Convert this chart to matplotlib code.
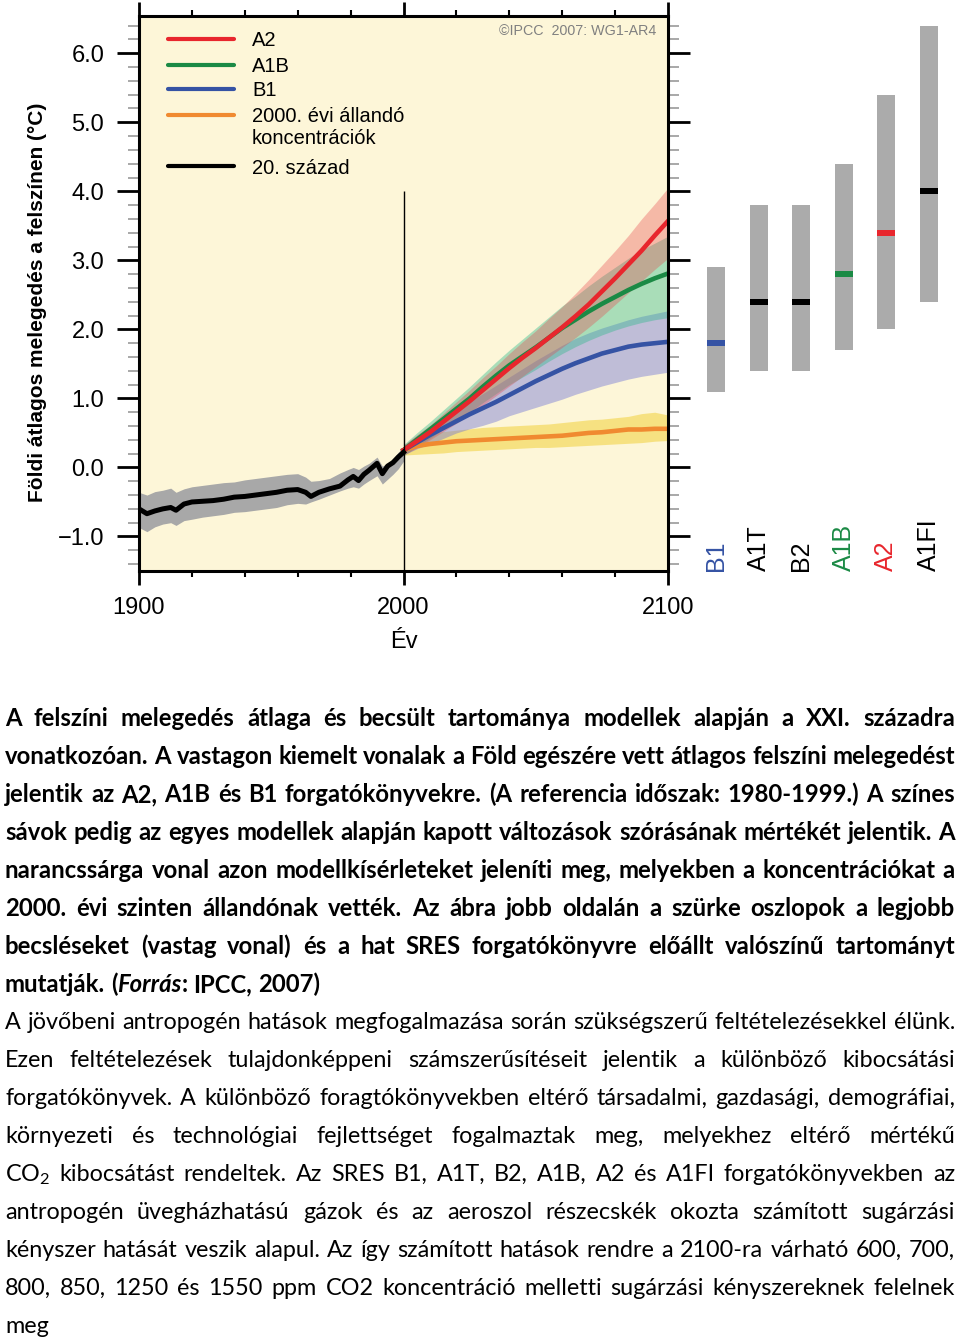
import matplotlib
matplotlib.use("Agg")
import matplotlib.pyplot as plt
from matplotlib.lines import Line2D
from matplotlib.ticker import MultipleLocator, FixedLocator, FixedFormatter
from matplotlib.transforms import IdentityTransform

W, H = 960, 1339
plt.rcParams['font.family'] = ['Liberation Sans', 'DejaVu Sans']

# --- 20th century (observed-model) mean and spread ---
hist_years = [1900, 1903, 1906, 1909, 1912, 1914, 1917, 1920, 1924, 1928,
              1932, 1936, 1940, 1944, 1948, 1952, 1956, 1960, 1963, 1965,
              1968, 1972, 1976, 1979, 1981, 1983, 1985, 1987, 1990, 1992,
              1994, 1996, 1998, 2000]
hist_mean = [-0.60, -0.67, -0.63, -0.60, -0.58, -0.62, -0.53, -0.50, -0.49, -0.48,
             -0.46, -0.43, -0.42, -0.40, -0.38, -0.36, -0.33, -0.32, -0.36, -0.42,
             -0.36, -0.31, -0.27, -0.18, -0.13, -0.19, -0.10, -0.04, 0.06, -0.09,
             0.02, 0.07, 0.15, 0.22]
hist_lo = [-0.87, -0.93, -0.86, -0.82, -0.80, -0.84, -0.77, -0.75, -0.72, -0.70,
           -0.68, -0.65, -0.64, -0.62, -0.60, -0.58, -0.54, -0.52, -0.53, -0.50,
           -0.46, -0.40, -0.34, -0.30, -0.28, -0.30, -0.24, -0.19, -0.12, -0.24,
           -0.17, -0.10, -0.02, 0.09]
hist_hi = [-0.36, -0.40, -0.35, -0.33, -0.30, -0.36, -0.31, -0.28, -0.26, -0.24,
           -0.22, -0.21, -0.18, -0.16, -0.14, -0.12, -0.10, -0.09, -0.14, -0.20,
           -0.19, -0.16, -0.08, -0.03, 0.00, -0.03, 0.02, 0.06, 0.15, 0.02,
           0.06, 0.12, 0.22, 0.30]

# --- scenarios 2000-2100 ---
fut_years = [2000, 2005, 2010, 2015, 2020, 2025, 2030, 2035, 2040, 2045, 2050,
             2055, 2060, 2065, 2070, 2075, 2080, 2085, 2090, 2095, 2100]
a2_mean = [0.25, 0.38, 0.51, 0.66, 0.81, 0.96, 1.12, 1.28, 1.44, 1.59, 1.73,
           1.88, 2.03, 2.19, 2.36, 2.55, 2.74, 2.94, 3.14, 3.36, 3.57]
a2_lo = [0.18, 0.28, 0.40, 0.52, 0.64, 0.77, 0.90, 1.04, 1.18, 1.32, 1.46,
         1.60, 1.74, 1.88, 2.03, 2.19, 2.36, 2.53, 2.70, 2.87, 3.03]
a2_hi = [0.32, 0.47, 0.61, 0.78, 0.95, 1.12, 1.30, 1.47, 1.65, 1.82, 1.98,
         2.16, 2.33, 2.52, 2.72, 2.93, 3.14, 3.36, 3.60, 3.82, 4.05]
a1b_mean = [0.25, 0.40, 0.55, 0.70, 0.85, 1.00, 1.17, 1.33, 1.48, 1.61, 1.74,
            1.88, 2.02, 2.14, 2.26, 2.37, 2.47, 2.57, 2.66, 2.74, 2.81]
a1b_lo = [0.17, 0.30, 0.42, 0.55, 0.67, 0.80, 0.94, 1.07, 1.20, 1.31, 1.42,
          1.54, 1.65, 1.75, 1.84, 1.92, 1.99, 2.05, 2.10, 2.14, 2.17]
a1b_hi = [0.33, 0.50, 0.66, 0.83, 1.00, 1.17, 1.35, 1.53, 1.70, 1.86, 2.02,
          2.18, 2.34, 2.48, 2.63, 2.77, 2.90, 3.03, 3.15, 3.25, 3.35]
b1_mean = [0.25, 0.36, 0.47, 0.57, 0.67, 0.77, 0.86, 0.95, 1.05, 1.15, 1.25,
           1.34, 1.43, 1.51, 1.58, 1.65, 1.70, 1.75, 1.78, 1.80, 1.82]
b1_lo = [0.18, 0.27, 0.34, 0.42, 0.50, 0.56, 0.61, 0.67, 0.75, 0.81, 0.87,
         0.93, 0.99, 1.06, 1.12, 1.18, 1.23, 1.28, 1.32, 1.35, 1.38]
b1_hi = [0.32, 0.46, 0.59, 0.71, 0.83, 0.95, 1.07, 1.19, 1.31, 1.43, 1.55,
         1.66, 1.77, 1.87, 1.95, 2.02, 2.08, 2.14, 2.19, 2.23, 2.27]
const_mean = [0.25, 0.31, 0.34, 0.36, 0.38, 0.39, 0.40, 0.41, 0.42, 0.43, 0.44,
              0.45, 0.46, 0.48, 0.50, 0.51, 0.53, 0.55, 0.55, 0.56, 0.56]
const_lo = [0.18, 0.19, 0.20, 0.21, 0.23, 0.24, 0.25, 0.26, 0.27, 0.28, 0.29,
            0.29, 0.30, 0.31, 0.32, 0.33, 0.34, 0.35, 0.36, 0.38, 0.39]
const_hi = [0.32, 0.45, 0.50, 0.52, 0.54, 0.56, 0.58, 0.59, 0.60, 0.61, 0.62,
            0.63, 0.65, 0.67, 0.69, 0.70, 0.72, 0.74, 0.78, 0.80, 0.76]

# --- likely ranges 2090-2099 (right-hand bars) ---
bar_names = ["B1", "A1T", "B2", "A1B", "A2", "A1FI"]
bar_low = [1.1, 1.4, 1.4, 1.7, 2.0, 2.4]
bar_high = [2.9, 3.8, 3.8, 4.4, 5.4, 6.4]
bar_best = [1.8, 2.4, 2.4, 2.8, 3.4, 4.0]

yticks = [-1, 0, 1, 2, 3, 4, 5, 6]
ytick_labels = ["\u22121.0", "0.0", "1.0", "2.0", "3.0", "4.0", "5.0", "6.0"]
xticks = [1900, 2000, 2100]
xtick_labels = ["1900", "2000", "2100"]

legend_labels = ["A2", "A1B", "B1", "2000. évi állandó\nkoncentrációk", "20. század"]

caption_lines = [
    "A felszíni melegedés átlaga és becsült tartománya modellek alapján a XXI. századra",
    "vonatkozóan. A vastagon kiemelt vonalak a Föld egészére vett átlagos felszíni melegedést",
    "jelentik az A2, A1B és B1 forgatókönyvekre. (A referencia időszak: 1980-1999.) A színes",
    "sávok pedig az egyes modellek alapján kapott változások szórásának mértékét jelentik. A",
    "narancssárga vonal azon modellkísérleteket jeleníti meg, melyekben a koncentrációkat a",
    "2000. évi szinten állandónak vették. Az ábra jobb oldalán a szürke oszlopok a legjobb",
    "becsléseket (vastag vonal) és a hat SRES forgatókönyvre előállt valószínű tartományt",
    "mutatják. (*Forrás*: IPCC, 2007)",
]
body_lines = [
    "A jövőbeni antropogén hatások megfogalmazása során szükségszerű feltételezésekkel élünk.",
    "Ezen feltételezések tulajdonképpeni számszerűsítéseit jelentik a különböző kibocsátási",
    "forgatókönyvek. A különböző foragtókönyvekben eltérő társadalmi, gazdasági, demográfiai,",
    "környezeti és technológiai fejlettséget fogalmaztak meg, melyekhez eltérő mértékű",
    "CO$_\\mathregular{2}$ kibocsátást rendeltek. Az SRES B1, A1T, B2, A1B, A2 és A1FI forgatókönyvekben az",
    "antropogén üvegházhatású gázok és az aeroszol részecskék okozta számított sugárzási",
    "kényszer hatását veszik alapul. Az így számított hatások rendre a 2100-ra várható 600, 700,",
    "800, 850, 1250 és 1550 ppm CO2 koncentráció melletti sugárzási kényszereknek felelnek",
    "meg",
]

RED = '#E8262D'
GREEN = '#1B8A45'
BLUE = '#3553A4'
ORANGE = '#F08A30'
BG = '#FDF6D8'

fig = plt.figure(figsize=(W / 100, H / 100), dpi=100)
fig.patch.set_facecolor('white')

# main panel
ax = fig.add_axes([139 / W, 1 - 571 / H, 529 / W, 555 / H])
ax.set_facecolor(BG)
ax.set_xlim(1900, 2100)
ax.set_ylim(-1.5, 6.54)

ax.fill_between(fut_years, const_lo, const_hi, color='#F2D13A', alpha=0.55, lw=0)
ax.fill_between(fut_years, b1_lo, b1_hi, color='#7478D6', alpha=0.45, lw=0)
ax.fill_between(fut_years, a1b_lo, a1b_hi, color='#2DB88A', alpha=0.40, lw=0)
ax.fill_between(fut_years, a2_lo, a2_hi, color='#E8484E', alpha=0.35, lw=0)
ax.fill_between(hist_years, hist_lo, hist_hi, color='#A8A8A8', lw=0)

ax.plot(fut_years, const_mean, color=ORANGE, lw=3.3)
ax.plot(fut_years, b1_mean, color=BLUE, lw=3.3)
ax.plot(fut_years, a1b_mean, color=GREEN, lw=3.3)
ax.plot(fut_years, a2_mean, color=RED, lw=3.3)
ax.plot(hist_years, hist_mean, color='black', lw=3.6)

ax.vlines(2000, -1.5, 4.0, color='black', lw=1)

for s in ax.spines.values():
    s.set_linewidth(2.2)
ax.xaxis.set_major_locator(FixedLocator(xticks))
ax.xaxis.set_major_formatter(FixedFormatter(xtick_labels))
ax.xaxis.set_minor_locator(MultipleLocator(20))
ax.yaxis.set_major_locator(FixedLocator(yticks))
ax.yaxis.set_major_formatter(FixedFormatter(ytick_labels))
ax.yaxis.set_minor_locator(MultipleLocator(0.2))
ax.tick_params(which='both', direction='out', top=True, right=True,
               labeltop=False, labelright=False)
ax.tick_params(axis='x', which='major', length=10, width=2, pad=9, labelsize=17)
ax.tick_params(axis='x', which='minor', length=4, width=1.5)
ax.tick_params(axis='y', which='major', length=16, width=2, pad=9, labelsize=17)
ax.tick_params(axis='y', which='minor', length=8, width=1.2, color='#999999')

fig.text(38 / W, 1 - 302 / H, "Földi átlagos melegedés a felszínen (°C)",
         rotation=90, ha='center', va='center', fontsize=15, weight='bold')
fig.text(404 / W, 1 - 642 / H, "Év", ha='center', va='center', fontsize=17)
fig.text(656 / W, 1 - 31 / H, "©IPCC  2007: WG1-AR4", ha='right', va='center',
         fontsize=10.3, color='#808080')

# legend drawn by hand
px = IdentityTransform()
leg_colors = [RED, GREEN, BLUE, ORANGE, 'black']
leg_rows = [39, 65, 89, 115, 166]
for lab, col, yy in zip(legend_labels, leg_colors, leg_rows):
    fig.add_artist(Line2D([168, 234], [H - yy, H - yy], transform=px, color=col,
                          lw=3, solid_capstyle='round'))
    for k, part in enumerate(lab.split("\n")):
        fig.text(252, H - yy - 2 - 22 * k, part, transform=px, ha='left',
                 va='center', fontsize=14.5)

# right-hand bars
axb = fig.add_axes([690 / W, 1 - 571 / H, 265 / W, 555 / H])
axb.set_xlim(-0.61, 5.61)
axb.set_ylim(-1.5, 6.54)
axb.axis('off')
idx = list(range(len(bar_names)))
best_colors = [BLUE, 'black', 'black', GREEN, RED, 'black']
axb.bar(idx, [h - l for h, l in zip(bar_high, bar_low)], bottom=bar_low,
        width=0.42, color='#ABABAB')
axb.bar(idx, 0.09, bottom=[b - 0.045 for b in bar_best], width=0.42, color=best_colors)
for i, name in enumerate(bar_names):
    axb.text(i, -1.5, name, rotation=90, ha='center', va='bottom', fontsize=18,
             color=best_colors[i])


# justified paragraphs
renderer = fig.canvas.get_renderer()


def parse(word):
    parts = word.split('*')
    return [(p, i % 2 == 1) for i, p in enumerate(parts) if p]


def seg_width(s, italic, size, weight, family):
    t = fig.text(0, 0, s, fontsize=size, weight=weight,
                 style='italic' if italic else 'normal', family=family)
    w = t.get_window_extent(renderer).width
    t.remove()
    return w


def draw_paragraph(lines, y0, step, size, weight, family, x0=5, x1=955):
    width = x1 - x0

    def measure(sz):
        space = seg_width("a a", False, sz, weight, family) - seg_width("aa", False, sz, weight, family)
        rows = []
        for line in lines:
            words = [parse(w) for w in line.split(' ')]
            ww = [sum(seg_width(s, it, sz, weight, family) for s, it in w) for w in words]
            rows.append((words, ww))
        return space, rows

    space, rows = measure(size)
    widest = max(sum(ww) + space * (len(ww) - 1) for _, ww in rows[:-1])
    if widest > width - 2:
        size = size * (width - 2) / widest
        space, rows = measure(size)

    for i, (words, ww) in enumerate(rows):
        y = H - (y0 + i * step)
        last = i == len(rows) - 1
        gap = space if last or len(ww) < 2 else (width - sum(ww)) / (len(ww) - 1)
        x = x0
        for w, wwid in zip(words, ww):
            xs = x
            for s, it in w:
                fig.text(xs, y, s, transform=px, ha='left', va='baseline',
                         fontsize=size, weight=weight,
                         style='italic' if it else 'normal', family=family)
                xs += seg_width(s, it, size, weight, family)
            x += wwid + gap


draw_paragraph(caption_lines, 726, 38, 20, 'bold', ['Lato', 'DejaVu Sans'])
draw_paragraph(body_lines, 1029, 38, 20, 'normal', ['Lato', 'DejaVu Sans'])

fig.savefig("out.png", dpi=100)
